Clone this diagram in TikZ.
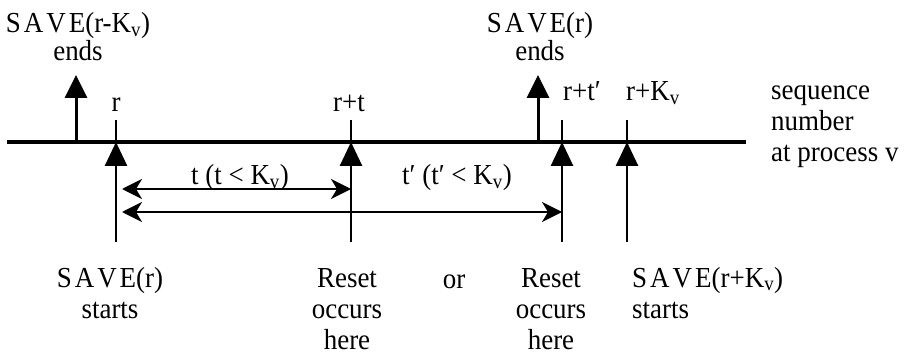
\documentclass[tikz,border=0pt]{standalone}
\usepackage{fontspec}
\setmainfont{Liberation Serif}[FakeStretch=0.93]
\usetikzlibrary{positioning,arrows.meta}

\newcommand{\SAVE}{S\kern3ptA\kern3ptV\kern3ptE}
\newcommand{\Kv}{K\textsubscript{v}}

\begin{document}
\begin{tikzpicture}[
        x=1pt, y=-1pt,
        every node/.style={inner sep=0pt, font=\fontsize{29}{31}\selectfont},
        axis/.style={line width=3.3pt},
        seqtick/.style={line width=2.7pt},
        startline/.style={line width=2.7pt, -{Triangle[length=24pt, width=22pt]}},
        endarrow/.style={line width=3pt, -{Triangle[length=23pt, width=22pt]}},
        interval/.style={line width=2.2pt, {Stealth[length=20pt, width=20pt, inset=6pt]}-{Stealth[length=20pt, width=20pt, inset=6pt]}},
        lbl/.style={anchor=base, align=center}
    ]
    \useasboundingbox (0,0) rectangle (909,355);

    % Sequence number axis
    \coordinate (axisL) at (7,142);
    \coordinate (axisR) at (746,142);
    \draw[axis] (axisL) -- (axisR);

    % Sequence numbers r, r+t, r+t', r+Kv
    \coordinate (r) at (116,142);
    \coordinate (rt) at (351,142);
    \coordinate (rtp) at (562,142);
    \coordinate (rk) at (627,142);
    \foreach \p in {r,rt,rtp,rk}{
        \path (\p) ++(0,-22) coordinate (\p-top);
        \path (\p) ++(0,100) coordinate (\p-foot);
        \draw[seqtick] (\p-top) -- (\p);
        \draw[startline] (\p-foot) -- (\p);
    }

    % SAVE ends
    \coordinate (endA) at (76,142);
    \coordinate (endA-tip) at (76,75);
    \coordinate (endB) at (538,142);
    \coordinate (endB-tip) at (538,75);
    \draw[endarrow] (endA) -- (endA-tip);
    \draw[endarrow] (endB) -- (endB-tip);

    % (base of a multi-line label = its last line)
    \node[lbl, font=\fontsize{29}{28}\selectfont] (saveEndA) at (78,61) {\SAVE(r-\Kv)\\ends};
    \node[lbl, font=\fontsize{29}{28}\selectfont] (saveEndB) at (540,61) {\SAVE(r)\\ends};

    % Labels on the ticks
    \node[lbl] (labR) at (116,112) {r};
    \node[lbl] (labRT) at (349,112) {r+t};
    \node[lbl] (labRTP) at (582,101) {r+t′};
    \node[lbl] (labRK) at (653,101) {r+\Kv};

    \node[anchor=base west, align=left] (seqLab) at (771,162) {sequence\\number\\at process v};

    % Intervals
    \coordinate (spanT-a) at (122,189);
    \coordinate (spanT-b) at (351,189);
    \coordinate (spanTP-a) at (122,212);
    \coordinate (spanTP-b) at (562,212);
    \draw[interval] (spanT-a) -- (spanT-b);
    \draw[interval] (spanTP-a) -- (spanTP-b);

    \node[lbl] (labSpanT) at (240,185) {t (t < \Kv)};
    \node[lbl] (labSpanTP) at (457,185) {t′ (t′ < \Kv)};

    % Bottom labels
    \node[lbl] (saveStart) at (110,318) {\SAVE(r)\\starts};
    \node[lbl] (resetA) at (347,349) {Reset\\occurs\\here};
    \node[lbl] (orLab) at (454,288) {or};
    \node[lbl] (resetB) at (551,349) {Reset\\occurs\\here};
    \node[anchor=base west, align=left] (saveStartK) at (632,318) {\SAVE(r+\Kv)\\starts};

\end{tikzpicture}
\end{document}
